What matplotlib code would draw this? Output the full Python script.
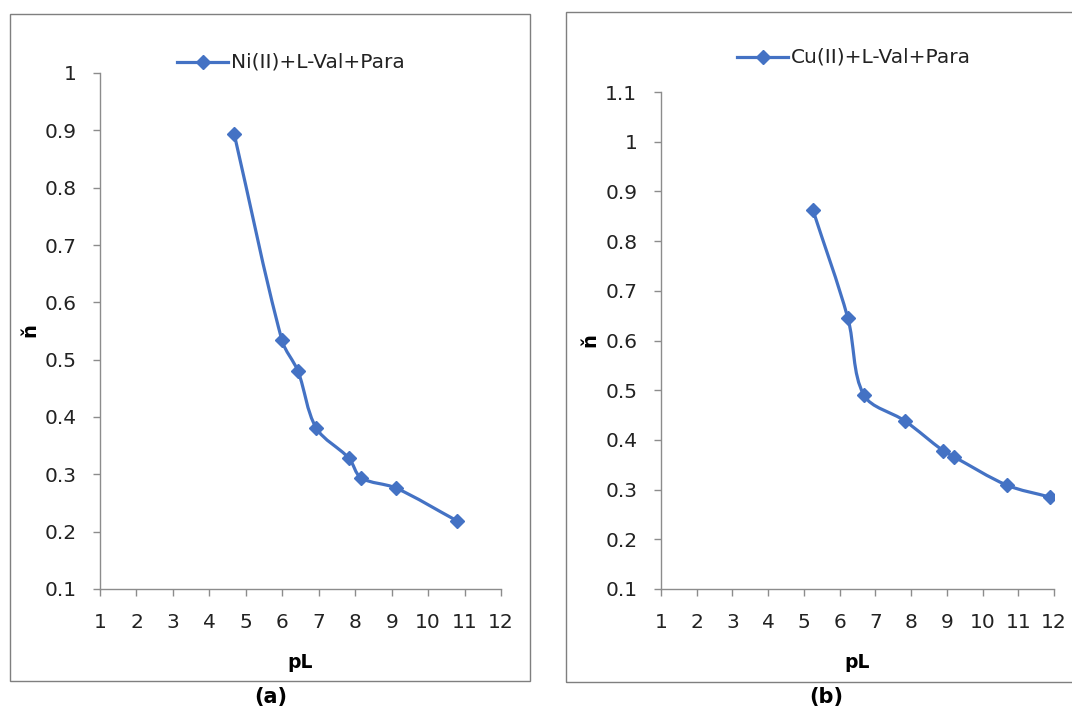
import numpy as np
import matplotlib
matplotlib.use("Agg")
import matplotlib.pyplot as plt
from matplotlib.path import Path
from matplotlib.patches import PathPatch, Rectangle
from matplotlib.lines import Line2D

# ---------------------------
# Data
# ---------------------------
pl_ni = [4.68, 5.99, 6.43, 6.93, 7.83, 8.16, 9.12, 10.79]
n_ni = [0.894, 0.534, 0.480, 0.381, 0.328, 0.294, 0.276, 0.219]

pl_cu = [5.25, 6.23, 6.68, 7.83, 8.90, 9.20, 10.68, 11.88]
n_cu = [0.863, 0.645, 0.490, 0.438, 0.378, 0.366, 0.309, 0.285]

label_ni = "Ni(II)+L-Val+Para"
label_cu = "Cu(II)+L-Val+Para"
x_ticks = list(range(1, 13))
y_ticks_a = [0.1, 0.2, 0.3, 0.4, 0.5, 0.6, 0.7, 0.8, 0.9, 1.0]
y_ticks_b = [0.1, 0.2, 0.3, 0.4, 0.5, 0.6, 0.7, 0.8, 0.9, 1.0, 1.1]

BLUE = "#4472C4"
GREY = "#8c8c8c"
TXT = "#222222"
FS = 14.5
W, H = 1072, 706
plt.rcParams['font.family'] = ['DejaVu Sans']


def smooth_path(ax, xs, ys, t=0.5):
    # smoothed line like a spreadsheet chart: bezier through the points,
    # control arms scaled by segment length (worked out in pixel space)
    p = ax.transData.transform(np.column_stack([xs, ys]))
    n = len(p)
    verts = [p[0]]
    codes = [Path.MOVETO]
    for i in range(n - 1):
        a = p[i - 1] if i > 0 else p[i]
        d = p[i + 2] if i + 2 < n else p[i + 1]
        seg = np.linalg.norm(p[i + 1] - p[i])
        l0 = np.linalg.norm(p[i] - a) + seg
        l1 = seg + np.linalg.norm(d - p[i + 1])
        c1 = p[i] + t * (p[i + 1] - a) * (seg / l0 if l0 > 0 else 0) * 2 / 3
        c2 = p[i + 1] - t * (d - p[i]) * (seg / l1 if l1 > 0 else 0) * 2 / 3
        verts += [c1, c2, p[i + 1]]
        codes += [Path.CURVE4] * 3
    verts = ax.transData.inverted().transform(np.array(verts))
    return Path(verts, codes)


def fmt(v):
    return "1" if abs(v - 1) < 1e-9 else f"{v:g}"


def make_panel(fig, rect_px, xs, ys, yticks, label, leg_xy, ylab_xy, tag, tag_x, box):
    l, t, r, b = rect_px
    ax = fig.add_axes([l / W, 1 - b / H, (r - l) / W, (b - t) / H])
    ax.set_xlim(1, 12)
    ax.set_ylim(yticks[0], yticks[-1])
    ax.add_patch(PathPatch(smooth_path(ax, xs, ys), fill=False, color=BLUE,
                           lw=2.3, capstyle='round', joinstyle='round'))
    ax.plot(xs, ys, ls='none', marker='D', ms=7, color=BLUE)
    ax.set_xticks(x_ticks)
    ax.set_yticks(yticks)
    ax.set_yticklabels([fmt(v) for v in yticks])
    for s in ['top', 'right']:
        ax.spines[s].set_visible(False)
    for s in ['left', 'bottom']:
        ax.spines[s].set_color(GREY)
        ax.spines[s].set_linewidth(1.0)
    ax.tick_params(axis='both', direction='out', length=5, width=1.0,
                   color=GREY, labelsize=FS, labelcolor=TXT)
    ax.tick_params(axis='x', pad=12)
    ax.tick_params(axis='y', pad=12)

    # legend above the plot
    lx, ly = leg_xy
    fig.add_artist(Line2D([lx / W, (lx + 51) / W], [1 - ly / H, 1 - ly / H],
                          color=BLUE, lw=2.3, transform=fig.transFigure))
    fig.add_artist(Line2D([(lx + 26) / W], [1 - ly / H], color=BLUE, ls='none',
                          marker='D', ms=7, transform=fig.transFigure))
    fig.text((lx + 54) / W, 1 - ly / H, label, fontsize=FS, va='center',
             ha='left', color=TXT)

    # axis titles
    fig.text(ylab_xy[0] / W, 1 - ylab_xy[1] / H, "ň", rotation=90,
             fontsize=14, fontweight='bold', ha='center', va='center')
    fig.text(((l + r) / 2) / W, 1 - 663 / H, "pL", fontsize=13.5,
             fontweight='bold', ha='center', va='center')
    fig.text(tag_x / W, 1 - 697 / H, tag, fontsize=15, fontweight='bold',
             ha='center', va='center')

    bl, bt, br, bb = box
    fig.add_artist(Rectangle((bl / W, 1 - bb / H), (br - bl) / W, (bb - bt) / H,
                             transform=fig.transFigure, fill=False,
                             ec='#7f7f7f', lw=1.0))
    return ax


fig = plt.figure(figsize=(W / 100, H / 100), dpi=100)
fig.patch.set_facecolor('white')

make_panel(fig, (100, 73, 501, 589), pl_ni, n_ni, y_ticks_a, label_ni,
           (177, 62), (30, 330), "(a)", 271, (10, 14, 530, 681))
make_panel(fig, (661, 92, 1054, 589), pl_cu, n_cu, y_ticks_b, label_cu,
           (737, 57), (590, 340), "(b)", 826, (566, 12, 1080, 682))

fig.savefig("out.png", dpi=100)
